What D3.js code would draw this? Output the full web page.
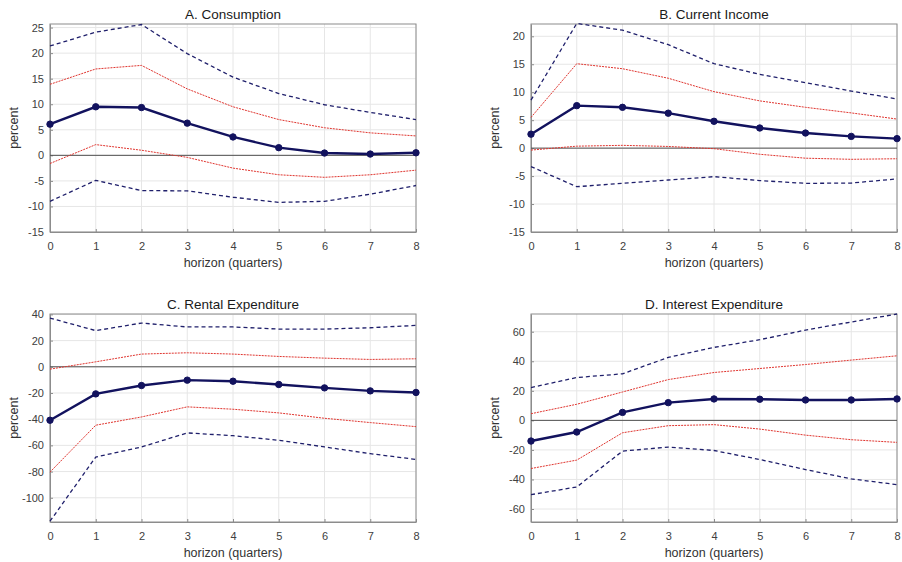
<!DOCTYPE html>
<html>
<head>
<meta charset="utf-8">
<script src="https://cdn.jsdelivr.net/npm/d3@7"></script>
<style>
  body { margin: 0; background: #fff; }
  svg { font-family: "Liberation Sans", Arial, sans-serif; }
</style>
</head>
<body>
<svg id="svg" width="902" height="562"></svg>
<script>
var horizon = [0, 1, 2, 3, 4, 5, 6, 7, 8];

// A. Consumption
var consMean = [6.1, 9.5, 9.35, 6.3, 3.6, 1.5, 0.45, 0.25, 0.5];
var consUp68 = [13.9, 16.9, 17.6, 13.0, 9.5, 7.0, 5.4, 4.4, 3.8];
var consLo68 = [-1.6, 2.1, 1.0, -0.4, -2.5, -3.8, -4.3, -3.8, -2.9];
var consUp90 = [21.4, 24.1, 25.6, 19.9, 15.3, 12.1, 9.9, 8.4, 7.0];
var consLo90 = [-9.0, -4.9, -6.9, -6.95, -8.2, -9.2, -9.0, -7.6, -5.9];

// B. Current Income
var incMean = [2.5, 7.6, 7.3, 6.25, 4.8, 3.6, 2.7, 2.1, 1.7];
var incUp68 = [5.5, 15.1, 14.2, 12.5, 10.1, 8.45, 7.3, 6.3, 5.2];
var incLo68 = [-0.35, 0.35, 0.5, 0.3, -0.1, -1.1, -1.8, -2.0, -1.9];
var incUp90 = [8.6, 22.3, 21.1, 18.5, 15.1, 13.2, 11.7, 10.2, 8.8];
var incLo90 = [-3.3, -6.9, -6.3, -5.7, -5.1, -5.8, -6.3, -6.25, -5.5];

// C. Rental Expenditure
var rentMean = [-40.8, -20.7, -14.3, -10.2, -11.0, -13.5, -16.1, -18.4, -19.6];
var rentUp68 = [-1.8, 3.8, 9.7, 10.7, 9.7, 7.9, 6.6, 5.6, 6.1];
var rentLo68 = [-80.4, -44.6, -38.3, -30.6, -32.4, -35.2, -39.3, -42.6, -45.7];
var rentUp90 = [37.2, 27.6, 33.4, 30.4, 30.4, 28.8, 28.8, 29.8, 31.6];
var rentLo90 = [-117.9, -68.9, -61.2, -50.5, -52.6, -56.1, -61.2, -66.3, -70.7];

// D. Interest Expenditure
var intMean = [-14.0, -7.9, 5.4, 12.0, 14.5, 14.3, 13.8, 13.8, 14.5];
var intUp68 = [4.5, 10.9, 19.2, 27.6, 32.4, 35.1, 37.8, 40.8, 43.7];
var intLo68 = [-32.6, -26.9, -8.4, -3.6, -2.9, -5.9, -10.0, -13.1, -14.9];
var intUp90 = [22.2, 29.0, 31.5, 42.6, 49.4, 54.6, 61.1, 66.6, 72.0];
var intLo90 = [-50.3, -45.1, -20.8, -18.1, -20.4, -26.5, -33.3, -39.6, -43.5];

var titles = ["A. Consumption", "B. Current Income", "C. Rental Expenditure", "D. Interest Expenditure"];
var yTicksA = [-15, -10, -5, 0, 5, 10, 15, 20, 25];
var yTicksB = [-15, -10, -5, 0, 5, 10, 15, 20];
var yTicksC = [-100, -80, -60, -40, -20, 0, 20, 40];
var yTicksD = [-60, -40, -20, 0, 20, 40, 60];

var svg = d3.select('#svg');

var panels = [
  { x: 50, y: 24, w: 366, h: 208, dom: [-15, 25.7], ticks: yTicksA,
    mean: consMean, up68: consUp68, lo68: consLo68, up90: consUp90, lo90: consLo90 },
  { x: 531, y: 24, w: 366, h: 208, dom: [-15, 22.2], ticks: yTicksB,
    mean: incMean, up68: incUp68, lo68: incLo68, up90: incUp90, lo90: incLo90 },
  { x: 50, y: 314, w: 366, h: 208, dom: [-118.5, 40.3], ticks: yTicksC,
    mean: rentMean, up68: rentUp68, lo68: rentLo68, up90: rentUp90, lo90: rentLo90 },
  { x: 531, y: 314, w: 366, h: 208, dom: [-68.8, 72], ticks: yTicksD,
    mean: intMean, up68: intUp68, lo68: intLo68, up90: intUp90, lo90: intLo90 }
];

panels.forEach(function(p, i) { drawPanel(p, titles[i]); });

function drawPanel(p, title) {
  var g = svg.append('g').attr('transform', 'translate(' + p.x + ',' + p.y + ')');

  var x = d3.scaleLinear().domain([0, 8]).range([0, p.w]);
  var y = d3.scaleLinear().domain(p.dom).range([p.h, 0]);

  // grid
  g.append('g').selectAll('line').data(horizon).enter().append('line')
    .attr('x1', d => x(d)).attr('x2', d => x(d))
    .attr('y1', 0).attr('y2', p.h)
    .style('stroke', '#e6e6e6').style('stroke-width', 1);
  g.append('g').selectAll('line').data(p.ticks).enter().append('line')
    .attr('x1', 0).attr('x2', p.w)
    .attr('y1', d => y(d)).attr('y2', d => y(d))
    .style('stroke', '#e6e6e6').style('stroke-width', 1);

  // box
  g.append('rect').attr('width', p.w).attr('height', p.h)
    .style('fill', 'none').style('stroke', '#8c8c8c').style('stroke-width', 1);

  // axes
  var xAxis = g.append('g').attr('transform', 'translate(0,' + p.h + ')')
    .call(d3.axisBottom(x).tickValues(horizon).tickFormat(d3.format('d')).tickSizeInner(-3).tickSizeOuter(0).tickPadding(10));
  var yAxis = g.append('g')
    .call(d3.axisLeft(y).tickValues(p.ticks).tickFormat(d => d < 0 ? '-' + Math.abs(d) : d).tickSizeInner(-3).tickSizeOuter(0).tickPadding(6));
  [xAxis, yAxis].forEach(function(a) {
    a.select('.domain').style('stroke', '#8c8c8c');
    a.selectAll('.tick line').style('stroke', '#8c8c8c');
    a.selectAll('text').style('fill', '#404040').style('font-size', '11px')
      .style('font-family', '"Liberation Sans", Arial, sans-serif');
  });

  // zero line
  g.append('line').attr('x1', 0).attr('x2', p.w)
    .attr('y1', y(0)).attr('y2', y(0))
    .style('stroke', '#505050').style('stroke-width', 1);

  var line = d3.line().x((d, j) => x(horizon[j])).y(d => y(d));

  // 90% bands (dashed)
  [p.up90, p.lo90].forEach(function(s) {
    g.append('path').attr('d', line(s))
      .style('fill', 'none').style('stroke', '#1f1f6b').style('stroke-width', 1.3)
      .style('stroke-dasharray', '4,3');
  });
  // 68% bands (dotted red)
  [p.up68, p.lo68].forEach(function(s) {
    g.append('path').attr('d', line(s))
      .style('fill', 'none').style('stroke', '#e0352f').style('stroke-width', 1)
      .style('stroke-dasharray', '2,1');
  });

  // mean response
  g.append('path').attr('d', line(p.mean))
    .style('fill', 'none').style('stroke', '#12125e').style('stroke-width', 2.4);
  g.append('g').selectAll('circle').data(p.mean).enter().append('circle')
    .attr('cx', (d, j) => x(horizon[j])).attr('cy', d => y(d)).attr('r', 3.2)
    .style('fill', '#12125e').style('stroke', '#12125e');

  // texts
  g.append('text').attr('x', p.w / 2).attr('y', -5)
    .attr('text-anchor', 'middle').style('font-size', '13.5px').style('fill', '#1a1a1a')
    .text(title);
  g.append('text').attr('x', p.w / 2).attr('y', p.h + 35)
    .attr('text-anchor', 'middle').style('font-size', '12.5px').style('fill', '#333')
    .text('horizon (quarters)');
  g.append('text')
    .attr('transform', 'translate(' + (-32) + ',' + (p.h / 2) + ') rotate(-90)')
    .attr('text-anchor', 'middle').style('font-size', '12.5px').style('fill', '#333')
    .text('percent');
}
</script>
</body>
</html>
